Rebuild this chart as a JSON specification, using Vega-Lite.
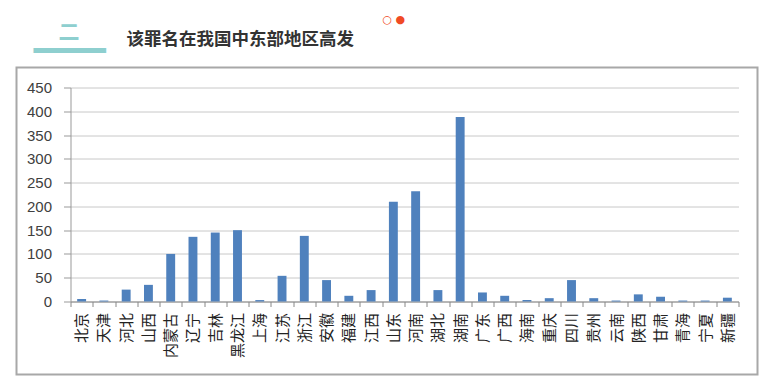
{
  "$schema": "https://vega.github.io/schema/vega-lite/v6.json",
  "background": "white",
  "padding": {"left": 8.5, "top": 13.5, "right": 5, "bottom": 5},
  "title": {"text": "○ ●", "anchor": "start", "dx": 374, "font": "DejaVu Sans", "fontSize": 11, "color": "#f04a25", "fontWeight": "normal", "offset": -4.5},
  "data": {"values": [
    {"province": "北京", "count": 5},
    {"province": "天津", "count": 2},
    {"province": "河北", "count": 25},
    {"province": "山西", "count": 35},
    {"province": "内蒙古", "count": 100},
    {"province": "辽宁", "count": 136},
    {"province": "吉林", "count": 145},
    {"province": "黑龙江", "count": 150},
    {"province": "上海", "count": 3},
    {"province": "江苏", "count": 54},
    {"province": "浙江", "count": 138},
    {"province": "安徽", "count": 45},
    {"province": "福建", "count": 12},
    {"province": "江西", "count": 24},
    {"province": "山东", "count": 210},
    {"province": "河南", "count": 232},
    {"province": "湖北", "count": 24},
    {"province": "湖南", "count": 388},
    {"province": "广东", "count": 19},
    {"province": "广西", "count": 12},
    {"province": "海南", "count": 3},
    {"province": "重庆", "count": 7},
    {"province": "四川", "count": 45},
    {"province": "贵州", "count": 7},
    {"province": "云南", "count": 2},
    {"province": "陕西", "count": 15},
    {"province": "甘肃", "count": 10},
    {"province": "青海", "count": 2},
    {"province": "宁夏", "count": 2},
    {"province": "新疆", "count": 8}
  ]},
  "vconcat": [
    {
      "width": 741,
      "height": 307,
      "title": {"text": "该罪名在我国中东部地区高发", "anchor": "start", "dx": 117, "font": "Noto Sans CJK SC", "fontSize": 17.5, "fontWeight": "bold", "color": "#333333", "baseline": "bottom", "offset": -45},
      "mark": {"type": "bar", "color": "#4f81bd", "width": {"band": 0.4}},
      "encoding": {
        "x": {
          "field": "province", "type": "nominal", "sort": null,
          "scale": {"range": [54, 722], "paddingInner": 0, "paddingOuter": 0},
          "axis": {
            "orient": "bottom", "offset": -73,
            "title": "━━━━", "titleX": 52.5, "titleY": -250, "titleFont": "DejaVu Sans Mono", "titleFontSize": 30, "titleColor": "#8ecfcf", "titleAlign": "center", "titleBaseline": "middle", "titleFontWeight": "normal", "titleAngle": 0,
            "labelAngle": -90, "labelFont": "Noto Sans CJK SC", "labelFontSize": 15, "labelColor": "#222222", "labelPadding": 6, "labelOverlap": false,
            "tickBand": "extent", "tickSize": 5, "tickColor": "#888888", "domainColor": "#888888", "grid": false
          }
        },
        "y": {
          "field": "count", "type": "quantitative",
          "scale": {"domain": [0, 450], "range": [234, 20], "nice": false},
          "axis": {
            "offset": -54, "values": [0, 50, 100, 150, 200, 250, 300, 350, 400, 450],
            "title": "二", "titleX": -2, "titleY": -35, "titleAngle": 0, "titleFont": "Noto Sans CJK SC", "titleFontSize": 21, "titleFontWeight": "bold", "titleColor": "#8ecfcf", "titleAlign": "center", "titleBaseline": "middle",
            "labelFont": "Liberation Sans", "labelFontSize": 15, "labelColor": "#404040", "labelPadding": 12, "labelFlush": false,
            "tickSize": 7, "tickColor": "#999999", "domainColor": "#999999", "gridColor": "#c8c8c8", "grid": true
          }
        }
      }
    }
  ],
  "config": {"view": {"stroke": "#a8a8a8", "strokeWidth": 2}, "concat": {"spacing": 0}}
}
